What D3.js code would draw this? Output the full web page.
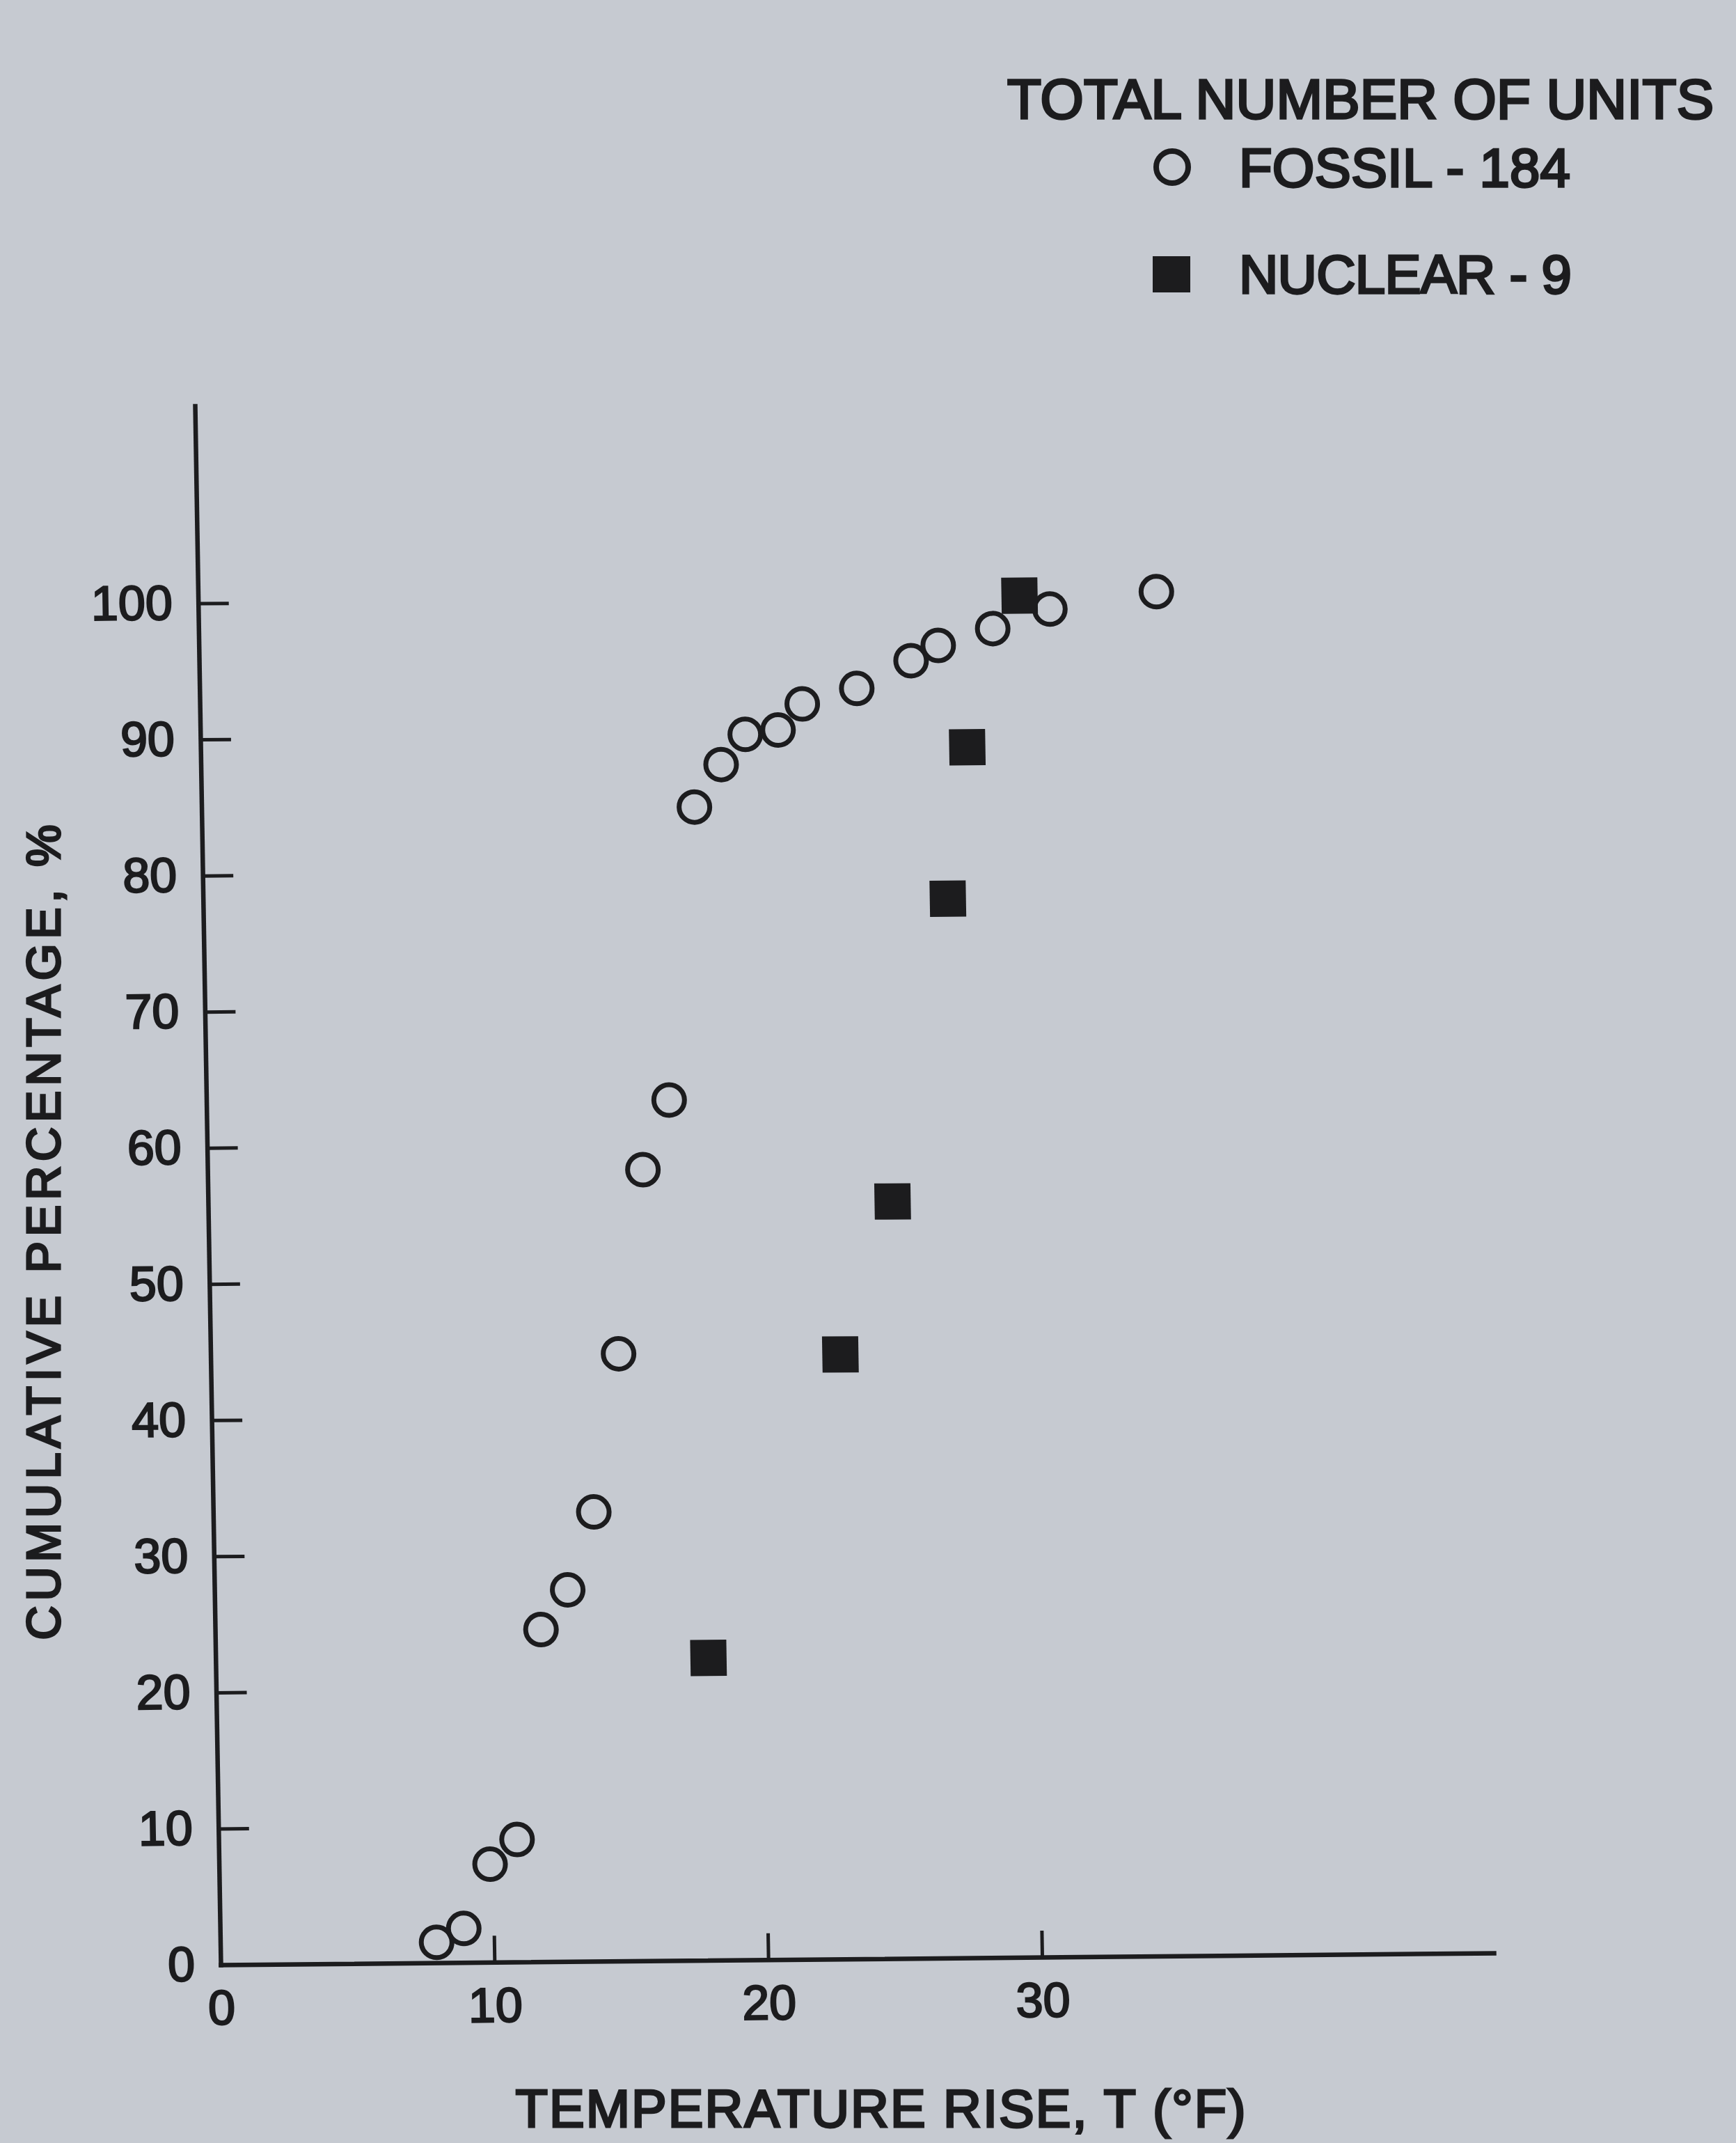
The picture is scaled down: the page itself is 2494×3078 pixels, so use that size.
<!DOCTYPE html>
<html>
<head>
<meta charset="utf-8">
<script src="https://cdn.jsdelivr.net/npm/d3@7"></script>
<style>
  html, body { margin: 0; padding: 0; background: #c6cad1; }
  svg { display: block; }
</style>
</head>
<body>
<script>
// ---------- data ----------
const fossilTemp = [7.9, 8.9, 9.9, 10.9, 11.9, 12.9, 13.9, 14.9, 15.9, 16.9, 18.0, 19.0, 19.9, 21.1, 22.0, 24.0, 26.0, 27.0, 29.0, 31.1, 35.0];
const fossilPct  = [1.5, 2.5, 7.2, 9.0, 24.4, 27.3, 33.0, 44.6, 58.1, 63.2, 84.7, 87.8, 90.0, 90.3, 92.2, 93.3, 95.3, 96.4, 97.6, 99.0, 100.2];
const nuclearTemp = [18.0, 23.0, 25.0, 27.2, 28.0, 30.0];
const nuclearPct  = [22.2, 44.4, 55.6, 77.8, 88.9, 100.0];
const xTicks = [0, 10, 20, 30];
const yTicks = [0, 10, 20, 30, 40, 50, 60, 70, 80, 90, 100];
const xTitle = "TEMPERATURE  RISE, T (\u00B0F)";
const yTitle = "CUMULATIVE PERCENTAGE, %";
const legendTitle = "TOTAL NUMBER OF UNITS";
const legendFossil = "FOSSIL - 184";
const legendNuclear = "NUCLEAR - 9";

// ---------- layout ----------
const W = 2494, H = 3078;
const INK = "#1c1c1e";
const BG = "#c6cad1";
const FONT = "'Liberation Sans', Arial, sans-serif";

const svg = d3.select("body").append("svg")
  .attr("width", W).attr("height", H)
  .attr("viewBox", `0 0 ${W} ${H}`);

svg.append("rect").attr("width", W).attr("height", H).attr("fill", BG);

// slight skew of the scanned page: axes are not perfectly square to the frame
const plot = svg.append("g")
  .attr("transform", "matrix(1,-0.00929,0.01652,1,317,2822)");

const x = d3.scaleLinear().domain([0, 46.5]).range([0, 1829]);
const y = d3.scaleLinear().domain([0, 114.5]).range([0, -2239]);

const xAxis = plot.append("g")
  .call(d3.axisBottom(x).tickValues(xTicks).tickSizeInner(-38).tickSizeOuter(0)
        .tickPadding(36).tickFormat(d3.format("d")));
const yAxis = plot.append("g")
  .call(d3.axisLeft(y).tickValues(yTicks).tickSizeInner(-44).tickSizeOuter(0)
        .tickPadding(37).tickFormat(d3.format("d")));

[xAxis, yAxis].forEach(a => {
  a.select(".domain").attr("stroke", INK).attr("stroke-width", 6.5)
    .attr("stroke-linecap", "square");
  a.selectAll(".tick line").attr("stroke", INK).attr("stroke-width", 5);
  a.selectAll(".tick text")
    .attr("fill", INK).attr("stroke", INK).attr("stroke-width", 2.4)
    .style("font-family", FONT).style("font-size", "70px");
});
// no visible tick marks at the origin
xAxis.selectAll(".tick").filter(d => d === 0).select("line").remove();
yAxis.selectAll(".tick").filter(d => d === 0).select("line").remove();

// fossil: open circles
plot.append("g").selectAll("circle")
  .data(fossilTemp.map((t, i) => ({ t, p: fossilPct[i] })))
  .join("circle")
  .attr("cx", d => x(d.t)).attr("cy", d => y(d.p))
  .attr("r", 22)
  .attr("fill", "none").attr("stroke", INK).attr("stroke-width", 7);

// nuclear: filled squares
const SQ = 52;
plot.append("g").selectAll("rect")
  .data(nuclearTemp.map((t, i) => ({ t, p: nuclearPct[i] })))
  .join("rect")
  .attr("x", d => x(d.t) - SQ / 2).attr("y", d => y(d.p) - SQ / 2)
  .attr("width", SQ).attr("height", SQ)
  .attr("fill", INK);

// axis titles
function label(sel, txt, size, len, sw) {
  return sel.append("text").text(txt)
    .attr("fill", INK).attr("stroke", INK).attr("stroke-width", sw)
    .attr("textLength", len).attr("lengthAdjust", "spacing")
    .style("font-family", FONT).style("font-size", size + "px");
}

label(svg.append("g").attr("transform", "translate(86,1770) rotate(-90)"),
      yTitle, 68, 1171, 3.2).attr("text-anchor", "middle");

label(svg, xTitle, 76, 1049, 3.2)
  .attr("x", 1265).attr("y", 3055).attr("text-anchor", "middle");

// legend
label(svg, legendTitle, 80, 1015, 3.4).attr("x", 1447).attr("y", 170);
svg.append("circle").attr("cx", 1684).attr("cy", 240).attr("r", 23)
  .attr("fill", "none").attr("stroke", INK).attr("stroke-width", 8);
label(svg, legendFossil, 78, 476, 3.3).attr("x", 1780).attr("y", 268);
svg.append("rect").attr("x", 1656).attr("y", 368).attr("width", 54).attr("height", 52)
  .attr("fill", INK);
label(svg, legendNuclear, 78, 478, 3.3).attr("x", 1780).attr("y", 421);
</script>
</body>
</html>
